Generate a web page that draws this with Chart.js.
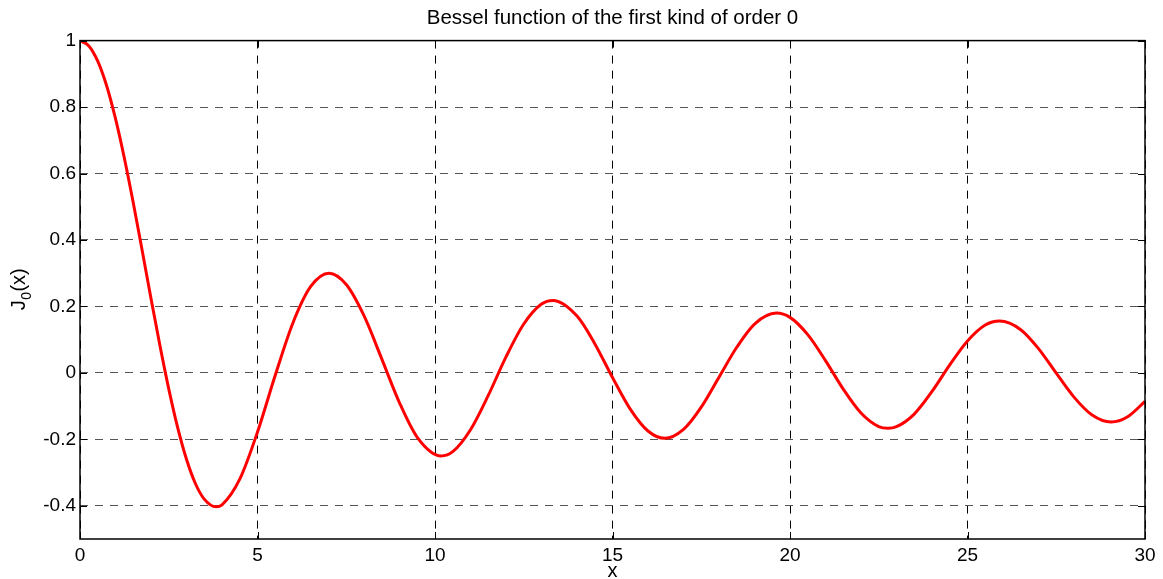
<!DOCTYPE html>
<html>
<head>
<meta charset="utf-8">
<script src="https://cdn.jsdelivr.net/npm/chart.js@4.4.1/dist/chart.umd.min.js"></script>
<style>
  html, body { margin: 0; padding: 0; background: #fff; }
  #wrap { width: 1163px; height: 579px; }
</style>
</head>
<body>
<div id="wrap"><canvas id="myChart" width="1163" height="579"></canvas></div>
<script>
// values (extra points at the turning points)
const xValues = [0, 0.25, 0.5, 0.75, 1, 1.25, 1.5, 1.75, 2, 2.25, 2.5, 2.75, 3, 3.25, 3.5, 3.832, 4, 4.5, 5, 5.5, 6, 6.5, 7.016, 7.5, 8, 8.5, 9, 9.5,
    10.174, 10.5, 11, 11.5, 12, 12.5, 13, 13.324, 14, 14.5, 15, 15.5, 16, 16.471, 17, 17.5, 18, 18.5, 19, 19.616,
    20, 20.5, 21, 21.5, 22, 22.5, 22.76, 23, 23.5, 24, 24.5, 25, 25.5, 25.904, 26.5, 27, 27.5, 28, 28.5, 29.047, 29.5, 30];
const j0Values = [1.000, 0.984, 0.938, 0.864, 0.765, 0.646, 0.512, 0.369, 0.224, 0.083, -0.048, -0.164, -0.260, -0.333, -0.380, -0.403, -0.397, -0.320, -0.178, -0.007, 0.151, 0.260, 0.300, 0.266, 0.172, 0.042, -0.090, -0.194,
    -0.250, -0.237, -0.171, -0.068, 0.048, 0.147, 0.207, 0.218, 0.171, 0.088, -0.014, -0.109, -0.175, -0.197, -0.170, -0.103, -0.013, 0.077, 0.147, 0.180,
    0.167, 0.115, 0.037, -0.049, -0.121, -0.162, -0.167, -0.162, -0.124, -0.056, 0.024, 0.096, 0.144, 0.156, 0.130, 0.073, -0.001, -0.073, -0.126, -0.148, -0.133, -0.086];
const xTicks = [0, 5, 10, 15, 20, 25, 30];
const yTicks = [-0.4, -0.2, 0, 0.2, 0.4, 0.6, 0.8, 1];

const FONT = '"Liberation Sans", Arial, Helvetica, sans-serif';

const boxPlugin = {
    id: 'box',
    afterDraw(chart) {
        const c = chart.ctx, a = chart.chartArea;
        const xs = chart.scales.x, ys = chart.scales.y;
        c.save();
        c.strokeStyle = '#000';
        c.lineWidth = 1;
        c.beginPath();
        xTicks.forEach(v => {
            const px = Math.round(xs.getPixelForValue(v)) + 0.5;
            c.moveTo(px, a.bottom); c.lineTo(px, a.bottom - 7);
            c.moveTo(px, a.top); c.lineTo(px, a.top + 7);
        });
        yTicks.forEach(v => {
            const py = Math.round(ys.getPixelForValue(v)) + 0.5;
            c.moveTo(a.left, py); c.lineTo(a.left + 7, py);
            c.moveTo(a.right, py); c.lineTo(a.right - 7, py);
        });
        c.stroke();
        c.lineWidth = 1.5;
        c.strokeRect(a.left, a.top, a.right - a.left, a.bottom - a.top);
        c.fillStyle = '#000';
        // x axis label
        c.font = '20px ' + FONT;
        c.textAlign = 'center';
        c.textBaseline = 'alphabetic';
        c.fillText('x', (a.left + a.right) / 2, 577);
        // y axis label with subscript
        c.textAlign = 'left';
        c.translate(25, (a.top + a.bottom) / 2);
        c.rotate(-Math.PI / 2);
        c.font = '20px ' + FONT;
        const wJ = c.measureText('J').width, wP = c.measureText('(x)').width;
        c.font = '14px ' + FONT;
        const w0 = c.measureText('0').width;
        const x0 = -(wJ + w0 + wP) / 2;
        c.font = '20px ' + FONT;
        c.fillText('J', x0, 0);
        c.font = '14px ' + FONT;
        c.fillText('0', x0 + wJ + 0.5, 6);
        c.font = '20px ' + FONT;
        c.fillText('(x)', x0 + wJ + w0 + 1, 0);
        c.restore();
    }
};

const ctx = document.getElementById('myChart').getContext('2d');

new Chart(ctx, {
    type: 'line',
    data: {
        datasets: [{
            label: 'J0',
            data: xValues.map((x, i) => ({ x: x, y: j0Values[i] })),
            borderColor: '#ff0000',
            borderWidth: 3,
            pointRadius: 0,
            cubicInterpolationMode: 'monotone',
            fill: false
        }]
    },
    options: {
        responsive: false,
        animation: false,
        layout: { padding: { left: 0, right: 18, top: 0, bottom: 0 } },
        plugins: {
            legend: { display: false },
            tooltip: { enabled: false },
            title: {
                display: true,
                fullSize: false,
                text: 'Bessel function of the first kind of order 0',
                color: '#000',
                font: { family: FONT, size: 20.5, weight: 'normal' },
                padding: { top: 6, bottom: 10 }
            }
        },
        scales: {
            x: {
                type: 'linear',
                min: 0, max: 30,
                afterBuildTicks: s => { s.ticks = xTicks.map(v => ({ value: v })); },
                afterFit: s => { s.height = 40; },
                grid: { color: '#000', lineWidth: 1, drawTicks: false },
                border: { display: false, dash: [8, 7] },
                ticks: { color: '#000', padding: 5, maxRotation: 0, font: { family: FONT, size: 19 } }
            },
            y: {
                type: 'linear',
                min: -0.5, max: 1,
                afterBuildTicks: s => { s.ticks = yTicks.map(v => ({ value: v })); },
                afterFit: s => { s.width = 80; },
                grid: { color: '#555', lineWidth: 1, drawTicks: false },
                border: { display: false, dash: [8, 7] },
                ticks: {
                    color: '#000', padding: 4, font: { family: FONT, size: 19 },
                    callback: v => String(Math.round(v * 10) / 10)
                }
            }
        }
    },
    plugins: [boxPlugin]
});
</script>
</body>
</html>
